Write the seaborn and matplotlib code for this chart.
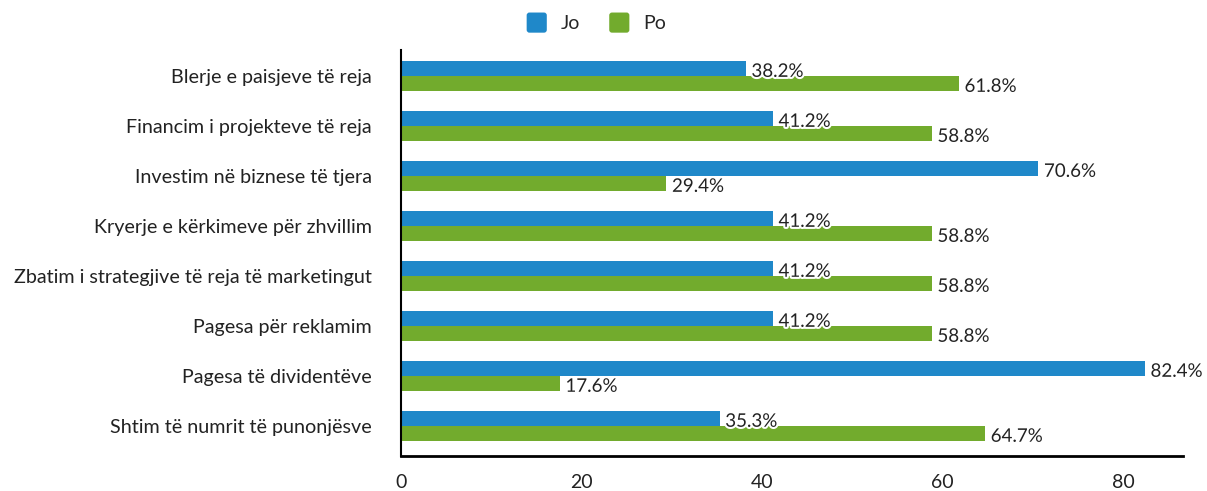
import matplotlib
matplotlib.use("Agg")
import matplotlib.pyplot as plt
import matplotlib.patheffects as pe
import pandas as pd
import seaborn as sns
from matplotlib.patches import FancyBboxPatch
from matplotlib.legend_handler import HandlerPatch

# ------------------------------------------------------
#   data
# ------------------------------------------------------
categories = [
    "Blerje e paisjeve të reja",
    "Financim i projekteve të reja",
    "Investim në biznese të tjera",
    "Kryerje e kërkimeve për zhvillim",
    "Zbatim i strategjive të reja të marketingut",
    "Pagesa për reklamim",
    "Pagesa të dividentëve",
    "Shtim të numrit të punonjësve",
]
jo_values = [38.2, 41.2, 70.6, 41.2, 41.2, 41.2, 82.4, 35.3]
po_values = [61.8, 58.8, 29.4, 58.8, 58.8, 58.8, 17.6, 64.7]
series = ["Jo", "Po"]
x_ticks = [0, 20, 40, 60, 80]

COLORS = {"Jo": "#1f88c9", "Po": "#72ab2d"}

df = pd.DataFrame({
    "category": categories * 2,
    "value": jo_values + po_values,
    "series": ["Jo"] * len(categories) + ["Po"] * len(categories),
})

# ------------------------------------------------------
#   theme
# ------------------------------------------------------
sns.set_theme(style="white")
plt.rcParams["font.family"] = ["Lato", "DejaVu Sans"]

fig = plt.figure(figsize=(12.07, 4.91), dpi=100)
ax = fig.add_axes([0.3322, 0.0713, 0.6478, 0.8267])

sns.barplot(
    data=df, y="category", x="value", hue="series",
    hue_order=series, order=categories, orient="h",
    palette=COLORS, width=0.6, saturation=1, ax=ax,
    legend=False, linewidth=0,
)

# value labels (sit slightly below bar centre, as in the source)
for container in ax.containers:
    labels = ax.bar_label(
        container, fmt="%.1f%%", padding=4, fontsize=13.5,
        color="#222222",
        path_effects=[pe.withStroke(linewidth=3, foreground="white")],
    )
    for t in labels:
        t.set_y(-2)

ax.set_xlim(0, 86.6)
ax.set_ylim(7.6, -0.52)
ax.set_xticks(x_ticks)
ax.set_xlabel("")
ax.set_ylabel("")
ax.tick_params(axis="x", length=0, pad=13, labelsize=14, colors="#222222")
ax.tick_params(axis="y", length=0, pad=21, labelsize=14.2, colors="#222222")

for side in ["top", "right"]:
    ax.spines[side].set_visible(False)
ax.spines["left"].set_color("black")
ax.spines["left"].set_linewidth(1.5)
ax.spines["bottom"].set_color("black")
ax.spines["bottom"].set_linewidth(2)


# legend with rounded squares
class RoundSquare(HandlerPatch):
    def create_artists(self, legend, orig_handle, xdescent, ydescent,
                       width, height, fontsize, trans):
        s = 14.5
        p = FancyBboxPatch(
            (-xdescent + (width - s) / 2, -ydescent + (height - s) / 2), s, s,
            boxstyle="round,pad=0,rounding_size=2",
            facecolor=orig_handle.get_facecolor(), edgecolor="none",
            transform=trans,
        )
        return [p]


handles = [plt.Rectangle((0, 0), 1, 1, facecolor=COLORS[s]) for s in series]
fig.legend(
    handles, series, loc="center", bbox_to_anchor=(0.494, 0.953),
    ncol=2, frameon=False, fontsize=14, handlelength=1.1, handleheight=1.0,
    handletextpad=0.7, columnspacing=1.45,
    handler_map={plt.Rectangle: RoundSquare()},
)

fig.savefig("out.png", dpi=100)
